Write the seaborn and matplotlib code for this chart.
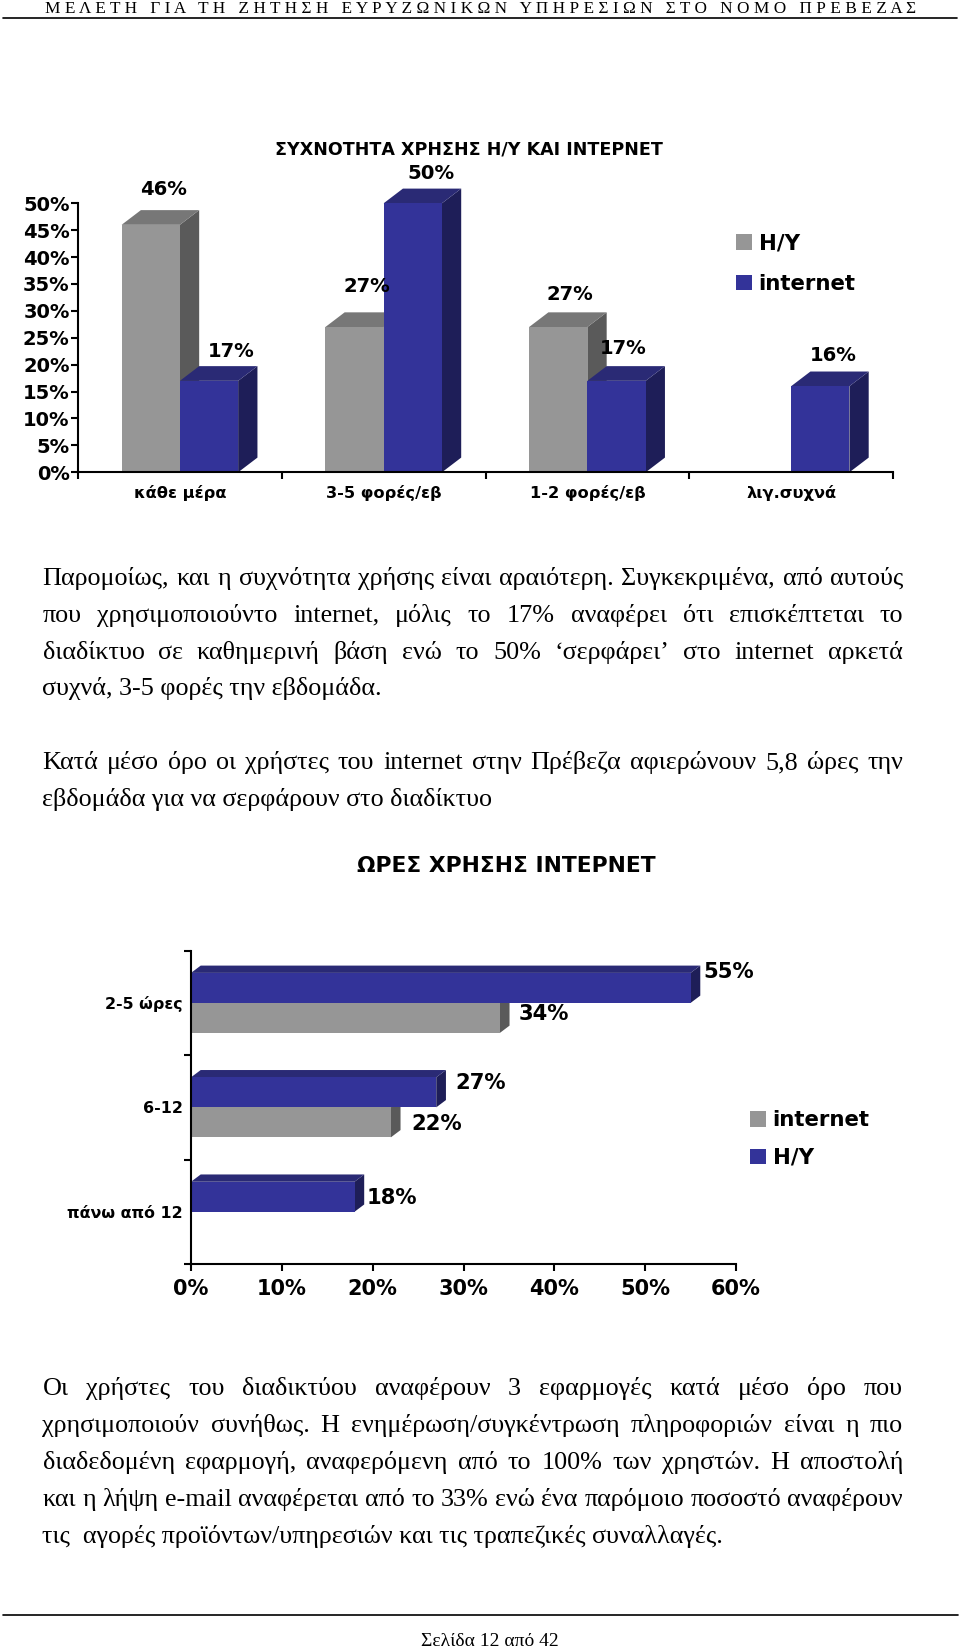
import numpy as np
import pandas as pd
import seaborn as sns
from matplotlib import pyplot as plt
from matplotlib import ticker as ticktools
from matplotlib.patches import Polygon

W, H = 960, 1650

# top chart data
freq_cats = ["κάθε μέρα", "3-5 φορές/εβ", "1-2 φορές/εβ", "λιγ.συχνά"]
freq_pc = [46, 27, 27, np.nan]
freq_net = [17, 50, 17, 16]
freq_ticks = [0, 5, 10, 15, 20, 25, 30, 35, 40, 45, 50]

# bottom chart data
hour_cats = ["2-5 ώρες", "6-12", "πάνω από 12"]
hour_blue = [55, 27, 18]
hour_gray = [34, 22, np.nan]
hour_ticks = [0, 10, 20, 30, 40, 50, 60]

title_top = "ΣΥΧΝΟΤΗΤΑ ΧΡΗΣΗΣ Η/Υ ΚΑΙ ΙΝΤΕΡΝΕΤ"
title_bottom = "ΩΡΕΣ ΧΡΗΣΗΣ ΙΝΤΕΡΝΕΤ"
header = "Μ Ε Λ Ε Τ Η   Γ Ι Α   Τ Η   Ζ Η Τ Η Σ Η   Ε Υ Ρ Υ Ζ Ω Ν Ι Κ Ω Ν   Υ Π Η Ρ Ε Σ Ι Ω Ν   Σ Τ Ο   Ν Ο Μ Ο   Π Ρ Ε Β Ε Ζ Α Σ"
footer = "Σελίδα 12 από 42"

para_1 = ["Παρομοίως, και η συχνότητα χρήσης είναι αραιότερη.  Συγκεκριμένα, από αυτούς",
          "που χρησιμοποιούντο internet, μόλις το 17% αναφέρει ότι επισκέπτεται το",
          "διαδίκτυο σε καθημερινή βάση ενώ το 50% ‘σερφάρει’ στο internet αρκετά",
          "συχνά, 3-5 φορές την εβδομάδα."]
para_2 = ["Κατά μέσο όρο οι χρήστες του internet στην Πρέβεζα αφιερώνουν 5,8 ώρες την",
          "εβδομάδα για να σερφάρουν στο διαδίκτυο"]
para_3 = ["Οι χρήστες του διαδικτύου αναφέρουν 3 εφαρμογές κατά μέσο όρο που",
          "χρησιμοποιούν συνήθως.  Η ενημέρωση/συγκέντρωση πληροφοριών είναι η πιο",
          "διαδεδομένη εφαρμογή, αναφερόμενη από το 100% των χρηστών.  Η αποστολή",
          "και η λήψη e-mail αναφέρεται από το 33% ενώ ένα παρόμοιο ποσοστό αναφέρουν",
          "τις  αγορές προϊόντων/υπηρεσιών και τις τραπεζικές συναλλαγές."]

GRAY = ("#969696", "#5a5a5a", "#777777")
BLUE = ("#333399", "#1e1e58", "#2a2a75")
SERIF = "Liberation Serif"
BODY = 18.8

sns.set_theme(style="white")
plt.rcParams["font.family"] = ["DejaVu Sans"]
plt.rcParams["text.color"] = "black"

fig = plt.figure(figsize=(W / 100, H / 100), dpi=100)


def px_axes(left, top, right, bottom):
    return fig.add_axes([left / W, 1 - bottom / H, (right - left) / W, (bottom - top) / H])


def px_text(x, y, s, **kw):
    kw.setdefault("va", "center")
    return fig.text(x / W, 1 - y / H, s, **kw)


def add_depth(ax, shades, dx, dy):
    # extrude each drawn bar up and to the right, measured in pixels
    to_data = ax.transData.inverted().transform
    for n, cont in enumerate(ax.containers):
        side, top = shades[n][1], shades[n][2]
        z = 3 - n if shades[0] == BLUE else 1 + n
        for bar in cont:
            if not np.isfinite(bar.get_width() * bar.get_height()):
                continue
            box = bar.get_window_extent()
            x0, x1, y0, y1 = box.x0, box.x1, box.y0, box.y1
            side_pts = [(x1, y0), (x1 + dx, y0 + dy), (x1 + dx, y1 + dy), (x1, y1)]
            top_pts = [(x0, y1), (x1, y1), (x1 + dx, y1 + dy), (x0 + dx, y1 + dy)]
            ax.add_patch(Polygon(to_data(side_pts), fc=side, ec="none", zorder=z, clip_on=False))
            ax.add_patch(Polygon(to_data(top_pts), fc=top, ec="none", zorder=z, clip_on=False))
            bar.set_zorder(z + 0.5)
            bar.set_clip_on(False)


def style_axis(ax):
    sns.despine(ax=ax)
    for s in ["left", "bottom"]:
        ax.spines[s].set_linewidth(1.5)
        ax.spines[s].set_color("black")
        ax.spines[s].set_zorder(6)
    ax.set_xlabel("")
    ax.set_ylabel("")
    ax.patch.set_alpha(0)


def label_bars(ax, texts_at, size):
    # texts_at holds (value text, anchor x, anchor y, pixel nudge x, pixel nudge y)
    for s, x, y, nx, ny in texts_at:
        ax.annotate(s, (x, y), xytext=(nx, -ny), textcoords="offset pixels", ha="center", va="center",
                    fontsize=size, fontweight="bold", annotation_clip=False, zorder=7)


def body_line(line, y, left=42.5):
    px_text(left, y, line, family=SERIF, fontsize=BODY, va="baseline")


def justified(line, y, left=42.5, right=903):
    words = line.split()
    rend = fig.canvas.get_renderer()
    items = [px_text(left, y, w, family=SERIF, fontsize=BODY, va="baseline") for w in words]
    widths = [t.get_window_extent(rend).width for t in items]
    gap = (right - left - sum(widths)) / (len(words) - 1)
    x = left
    for t, w in zip(items, widths):
        t.set_x(x / W)
        x += w + gap


legend_opts = dict(bbox_transform=fig.transFigure, frameon=False, prop={"weight": "bold", "size": 15.3},
                   handlelength=0.76, handleheight=0.76, handletextpad=0.3,
                   borderpad=0, borderaxespad=0, loc="upper left")

# ---- top chart
df_top = pd.DataFrame({"cat": freq_cats * 2,
                       "share": freq_pc + freq_net,
                       "kind": ["Η/Υ"] * 4 + ["internet"] * 4})
ax1 = px_axes(78, 203.3, 893, 472.3)
sns.barplot(data=df_top, x="cat", y="share", hue="kind", hue_order=["Η/Υ", "internet"],
            order=freq_cats, palette=[GRAY[0], BLUE[0]], width=0.572, gap=0, saturation=1,
            errorbar=None, linewidth=0, ax=ax1)
ax1.set_xlim(-0.5, 3.5)
ax1.set_ylim(0, 50)
style_axis(ax1)
ax1.set_yticks(freq_ticks)
ax1.yaxis.set_major_formatter(ticktools.FuncFormatter(lambda v, _: f"{v:.0f}%"))
ax1.tick_params(axis="y", left=True, length=5, width=1.5, pad=1, color="black", labelcolor="black")
for t in ax1.get_yticklabels():
    t.set_fontsize(14)
    t.set_fontweight("bold")
ax1.set_xticks(np.arange(4))
ax1.set_xticklabels(freq_cats, fontsize=11.7, fontweight="bold", color="black")
ax1.set_xticks(np.arange(-0.5, 4), minor=True)
ax1.tick_params(axis="x", which="major", length=0, pad=9)
ax1.tick_params(axis="x", which="minor", bottom=True, length=5, width=1.5, color="black")
handles, labels = ax1.get_legend_handles_labels()
ax1.legend(handles, labels, bbox_to_anchor=(736 / W, 1 - 233.5 / H), labelspacing=0.96, **legend_opts)
fig.canvas.draw()
add_depth(ax1, [GRAY, BLUE], 19.3, 14.7)
top_nudges = [[(13, -35), (12, -41), (12, -33), None], [(22.5, -29), (18, -30), (7, -32), (13, -31)]]
top_labels = []
for n, cont in enumerate(ax1.containers):
    for bar, v, nudge in zip(cont, [freq_pc, freq_net][n], top_nudges[n]):
        if np.isfinite(v):
            top_labels.append((f"{v}%", bar.get_x() + bar.get_width() / 2, v, nudge[0], nudge[1]))
label_bars(ax1, top_labels, 14.1)
px_text(469, 149, title_top, ha="center", fontsize=12.6, fontweight="bold")

# ---- bottom chart
df_bot = pd.DataFrame({"cat": hour_cats * 2,
                       "share": hour_blue + hour_gray,
                       "kind": ["Η/Υ"] * 3 + ["internet"] * 3})
ax2 = px_axes(191, 950.7, 736, 1264)
sns.barplot(data=df_bot, y="cat", x="share", hue="kind", hue_order=["Η/Υ", "internet"],
            order=hour_cats, palette=[BLUE[0], GRAY[0]], width=0.575, gap=0, saturation=1,
            errorbar=None, linewidth=0, orient="h", ax=ax2)
ax2.set_xlim(0, 60)
ax2.set_ylim(2.5, -0.5)
style_axis(ax2)
ax2.set_xticks(hour_ticks)
ax2.xaxis.set_major_formatter(ticktools.FuncFormatter(lambda v, _: f"{v:.0f}%"))
ax2.tick_params(axis="x", bottom=True, length=5, width=1.5, pad=5.5, color="black", labelcolor="black")
for t in ax2.get_xticklabels():
    t.set_fontsize(15)
    t.set_fontweight("bold")
ax2.set_yticks(np.arange(3))
ax2.set_yticklabels(hour_cats, fontsize=11.4, fontweight="bold", color="black")
ax2.set_yticks(np.arange(-0.5, 3), minor=True)
ax2.tick_params(axis="y", which="major", length=0, pad=6)
ax2.tick_params(axis="y", which="minor", left=True, length=5, width=1.5, color="black")
# the source's legend lists gray first
handles, labels = ax2.get_legend_handles_labels()
ax2.legend(handles[::-1], labels[::-1], bbox_to_anchor=(750 / W, 1 - 1110.5 / H), labelspacing=0.82, **legend_opts)
fig.canvas.draw()
add_depth(ax2, [BLUE, GRAY], 9.7, 7.3)
bot_nudges = [[(38, -16), (44, -9), (37, 1)], [(44, -4), (46, 2), None]]
bot_labels = []
for n, cont in enumerate(ax2.containers):
    for bar, v, nudge in zip(cont, [hour_blue, hour_gray][n], bot_nudges[n]):
        if np.isfinite(v):
            bot_labels.append((f"{v}%", v, bar.get_y() + bar.get_height() / 2, nudge[0], nudge[1]))
label_bars(ax2, bot_labels, 15.2)
px_text(506, 866, title_bottom, ha="center", fontsize=15.7, fontweight="bold")

# ---- page text
px_text(45, 13, header, family=SERIF, fontsize=12.38, va="baseline")
fig.add_artist(plt.Line2D([3 / W, 957 / W], [1 - 18 / H] * 2, color="black", lw=1.2))
for line, y in zip(para_1[:3], [585, 621.8, 658.5]):
    justified(line, y)
body_line(para_1[3], 695)
justified(para_2[0], 769)
body_line(para_2[1], 806)
for line, y in zip(para_3[:4], [1395, 1432, 1469, 1506]):
    justified(line, y)
body_line(para_3[4], 1543)
fig.add_artist(plt.Line2D([3 / W, 958 / W], [1 - 1615 / H] * 2, color="black", lw=1.2))
px_text(490, 1646, footer, ha="center", family=SERIF, fontsize=14, va="baseline")

fig.savefig("out.png", dpi=100)
